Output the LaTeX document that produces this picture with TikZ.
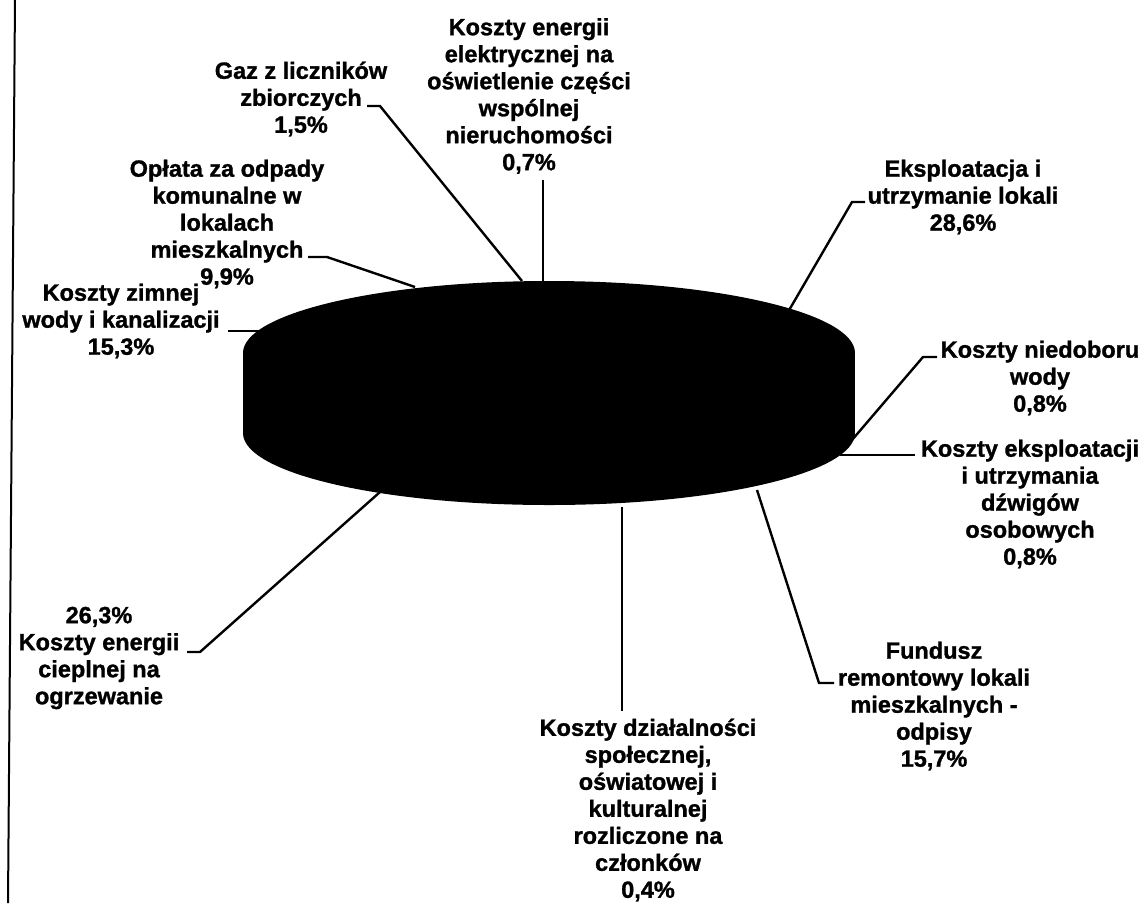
\documentclass[tikz,border=0pt]{standalone}
\usepackage{fontspec}
\setmainfont{Liberation Sans}[BoldFeatures={FakeBold=1.2}]
\begin{document}
\begin{tikzpicture}[x=1pt,y=-1pt,
  lbl/.style={align=center,inner sep=0pt,font=\fontsize{23.5}{27}\selectfont\bfseries},
  lead/.style={draw=black,line width=2.4pt,line join=miter},
  piefill/.style={fill=black}]
\useasboundingbox (0,0) rectangle (1148,903);
% left border
\draw[line width=2pt] (15,0) -- (8,903);
% pie (cylinder)
\fill[piefill] (549,433) ellipse [x radius=306pt, y radius=72pt];
\fill[piefill] (243,353) rectangle (855,433);
\fill[piefill] (549,353) ellipse [x radius=306pt, y radius=72pt];
% labels
\node[lbl] (el) at (529,96) {Koszty energii\\elektrycznej na\\oświetlenie części\\wspólnej\\nieruchomości\\0,7\%};
\node[lbl] (gaz) at (301,99) {Gaz z liczników\\zbiorczych\\1,5\%};
\node[lbl] (odp) at (227,224) {Opłata za odpady\\komunalne w\\lokalach\\mieszkalnych\\9,9\%};
\node[lbl] (zim) at (121,321) {Koszty zimnej\\wody i kanalizacji\\15,3\%};
\node[lbl] (eks) at (963,197) {Eksploatacja i\\utrzymanie lokali\\28,6\%};
\node[lbl] (nie) at (1040,378) {Koszty niedoboru\\wody\\0,8\%};
\node[lbl] (dzw) at (1030,504) {Koszty eksploatacji\\i utrzymania\\dźwigów\\osobowych\\0,8\%};
\node[lbl] (fun) at (934,706) {Fundusz\\remontowy lokali\\mieszkalnych -\\odpisy\\15,7\%};
\node[lbl] (dzi) at (648,810) {Koszty działalności\\społecznej,\\oświatowej i\\kulturalnej\\rozliczone na\\członków\\0,4\%};
\node[lbl] (cie) at (99,658) {26,3\%\\Koszty energii\\cieplnej na\\ogrzewanie};
% leader line points
\coordinate (pEl) at (543,281);   \coordinate (eEl) at (543,180);
\coordinate (pGaz) at (522,281);  \coordinate (kGaz) at (380,106); \coordinate (eGaz) at (367,106);
\coordinate (pOdp) at (415,287);  \coordinate (kOdp) at (327,257); \coordinate (eOdp) at (308,257);
\coordinate (pZim) at (263,331);  \coordinate (eZim) at (228,331);
\coordinate (pEks) at (788,312);  \coordinate (kEks) at (852,202); \coordinate (eEks) at (865,202);
\coordinate (pNie) at (852,440);  \coordinate (kNie) at (923,357); \coordinate (eNie) at (937,357);
\coordinate (pDzw) at (840,455);  \coordinate (eDzw) at (915,455);
\coordinate (pFun) at (757,490);  \coordinate (kFun) at (819,683); \coordinate (eFun) at (834,683);
\coordinate (pDzi) at (622,507);  \coordinate (eDzi) at (622,711);
\coordinate (pCie) at (380,492);  \coordinate (kCie) at (200,652); \coordinate (eCie) at (187,652);
% leader lines
\draw[lead] (eEl) -- (pEl);
\draw[lead] (eGaz) -- (kGaz) -- (pGaz);
\draw[lead] (eOdp) -- (kOdp) -- (pOdp);
\draw[lead] (eZim) -- (pZim);
\draw[lead] (eEks) -- (kEks) -- (pEks);
\draw[lead] (eNie) -- (kNie) -- (pNie);
\draw[lead] (eDzw) -- (pDzw);
\draw[lead] (eFun) -- (kFun) -- (pFun);
\draw[lead] (eDzi) -- (pDzi);
\draw[lead] (eCie) -- (kCie) -- (pCie);
\end{tikzpicture}
\end{document}
